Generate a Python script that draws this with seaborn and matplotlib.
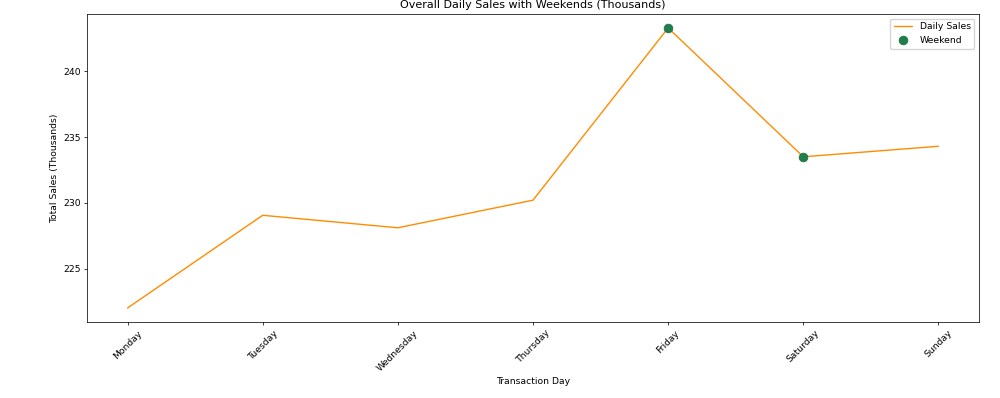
import pandas as pd
import matplotlib
matplotlib.use('Agg')
import matplotlib.pyplot as plt
import seaborn as sns

# 요일별 매출 (천 단위)
days = ['Monday', 'Tuesday', 'Wednesday', 'Thursday', 'Friday', 'Saturday', 'Sunday']
sales = [222.0, 229.05, 228.1, 230.2, 243.3, 233.5, 234.3]
weekend_days = ['Friday', 'Saturday']
weekend_sales = [243.3, 233.5]

sns.set_style("ticks")
plt.rcParams['font.family'] = ['DejaVu Sans']

# 원본이 크게 그려진 뒤 축소된 모양이라 크기를 2/3로 맞춤
scale = 2 / 3
plt.rcParams['axes.linewidth'] = 0.8 * scale
plt.rcParams['axes.edgecolor'] = 'black'
plt.rcParams['text.color'] = 'black'
plt.rcParams['axes.labelcolor'] = 'black'
plt.rcParams['xtick.color'] = 'black'
plt.rcParams['ytick.color'] = 'black'
plt.rcParams['xtick.major.size'] = 3.5 * scale
plt.rcParams['ytick.major.size'] = 3.5 * scale
plt.rcParams['xtick.major.width'] = 0.8 * scale
plt.rcParams['ytick.major.width'] = 0.8 * scale

df = pd.DataFrame({'day': days, 'sales': sales})
df_weekend = pd.DataFrame({'day': weekend_days, 'sales': weekend_sales})

fig, ax = plt.subplots(figsize=(10, 3.98), dpi=100)
fig.subplots_adjust(left=0.087, right=0.979, top=0.965, bottom=0.191)

sns.lineplot(data=df, x='day', y='sales', color='darkorange', linewidth=1.5 * scale,
             label='Daily Sales', ax=ax, sort=False)
sns.scatterplot(data=df_weekend, x='day', y='sales', color='#1e7f4c', s=40,
                edgecolor='#1e6f44', linewidth=0.5, label='Weekend', ax=ax, zorder=3)

ax.set_title('Overall Daily Sales with Weekends (Thousands)', fontsize=12 * scale, pad=6 * scale)
ax.set_xlabel('Transaction Day', fontsize=10 * scale, labelpad=4 * scale)
ax.set_ylabel('Total Sales (Thousands)', fontsize=10 * scale, labelpad=4 * scale)
ax.tick_params(labelsize=10 * scale, pad=3.5 * scale)
plt.setp(ax.get_xticklabels(), rotation=45)
ax.legend(loc='upper right', fontsize=10 * scale, frameon=True)

plt.savefig('out.png', dpi=100)
